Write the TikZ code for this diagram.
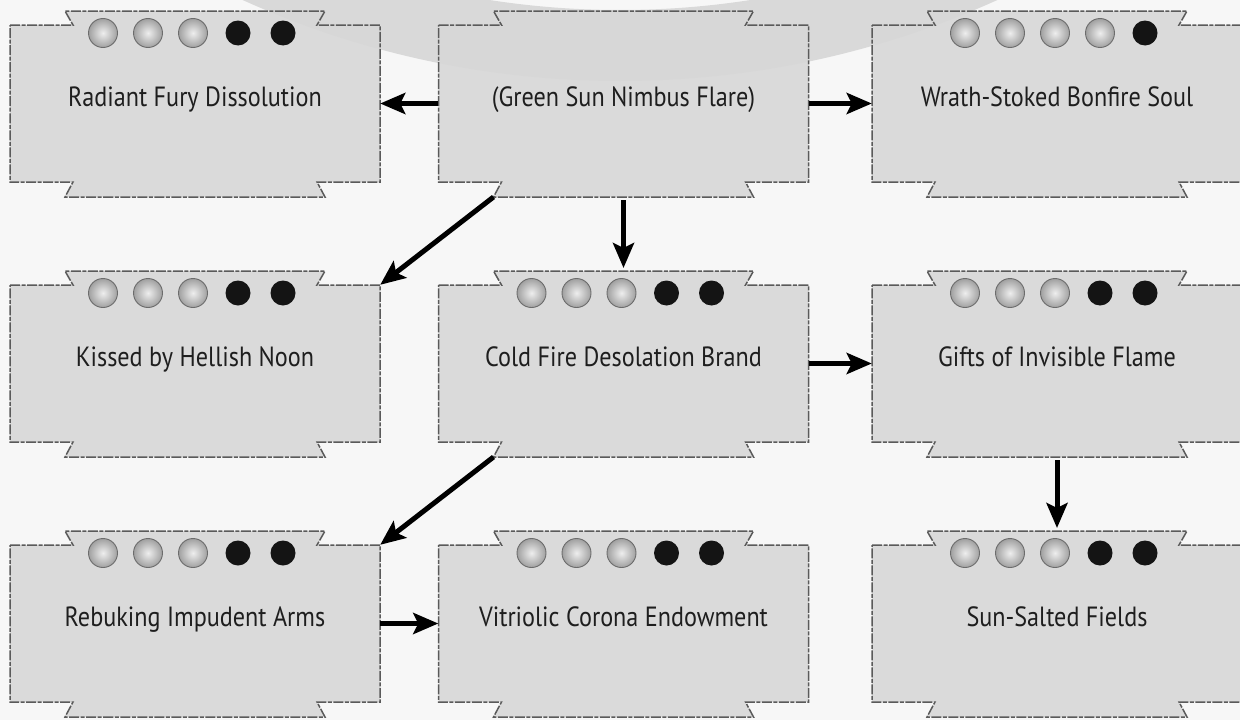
\documentclass[tikz,border=0pt]{standalone}
\usepackage{fontspec}
\setmainfont[FakeStretch=0.87]{PT Sans}
\usetikzlibrary{arrows.meta,calc}
\definecolor{bgcol}{RGB}{247,247,247}
\definecolor{ringcol}{RGB}{217,217,217}
\definecolor{boxfill}{RGB}{215,215,215}
\definecolor{boxedge}{RGB}{90,90,90}
\definecolor{textcol}{RGB}{30,30,30}
\definecolor{silverin}{RGB}{238,238,238}
\definecolor{silverout}{RGB}{160,160,160}
\tikzset{
  boxshape/.style={fill=boxfill, fill opacity=0.9, draw=boxedge, line width=1.5pt,
    dash pattern=on 10pt off 1.5pt on 4pt off 1.5pt},
  boxanchor/.style={minimum width=370pt, minimum height=157pt, inner sep=0pt, draw=none},
  boxlabel/.style={anchor=base, font=\fontsize{27.8}{32}\selectfont, text=textcol, inner sep=0pt},
  conn/.style={line width=5pt, draw=black, -{Stealth[length=25pt,width=21pt,inset=5pt]}},
}
\newcommand\nbox[4]{%
  \node[boxanchor] (#1) at (#2,#3) {};
  \begin{scope}[shift={(#1.center)}]
    \path[boxshape] (-185,-78.5) -- (-122,-78.5) -- (-130,-92.5) -- (130,-92.5) -- (122,-78.5)
      -- (185,-78.5) -- (185,78.5) -- (122,78.5) -- (130,93.5) -- (-130,93.5) -- (-122,78.5)
      -- (-185,78.5) -- cycle;
    \coordinate (#1-top) at (0,-92.5);
    \coordinate (#1-bot) at (0,93.5);
    \coordinate (#1-bl) at (-130,93.5);
  \end{scope}
  \node[boxlabel] (#1-label) at ($(#1.center)+(0,3)$) {#4};
}
\newcommand\ndots[2]{%
  \foreach \i in {1,...,5}{%
    \pgfmathsetmacro\dx{-92+45*(\i-1)}
    \ifnum\i>#2
      \fill[black!92] ($(#1.center)+(\dx,-70.5)$) circle[radius=12.5pt];
    \else
      \shade[inner color=silverin, outer color=silverout] ($(#1.center)+(\dx,-70.5)$) circle[radius=14.5pt];
      \draw[gray!85!black, line width=0.9pt] ($(#1.center)+(\dx,-70.5)$) circle[radius=14.5pt];
    \fi
  }%
}
\begin{document}
\begin{tikzpicture}[x=1pt,y=-1pt]
  \useasboundingbox (0,0) rectangle (1240,720);
  \clip (0,0) rectangle (1240,720);
  \fill[bgcol] (0,0) rectangle (1240,720);
  \fill[ringcol, even odd rule] (620,-836) circle[radius=917pt] (620,-836) circle[radius=846pt];

  \nbox{R}{195}{103.5}{Radiant Fury Dissolution}
  \nbox{G}{623.5}{103.5}{(Green Sun Nimbus Flare)}
  \nbox{W}{1057}{103.5}{Wrath-Stoked Bonfire Soul}
  \nbox{K}{195}{363.5}{Kissed by Hellish Noon}
  \nbox{C}{623.5}{363.5}{Cold Fire Desolation Brand}
  \nbox{F}{1057}{363.5}{Gifts of Invisible Flame}
  \nbox{Rb}{195}{623.5}{Rebuking Impudent Arms}
  \nbox{V}{623.5}{623.5}{Vitriolic Corona Endowment}
  \nbox{S}{1057}{623.5}{Sun-Salted Fields}

  \ndots{R}{3}
  \ndots{W}{4}
  \ndots{K}{3}
  \ndots{C}{3}
  \ndots{F}{3}
  \ndots{Rb}{3}
  \ndots{V}{3}
  \ndots{S}{3}

  \draw[conn] (G.west) -- (R.east);
  \draw[conn] (G.east) -- (W.west);
  \draw[conn] (G-bl) -- (K.north east);
  \draw[conn, shorten <=3pt, shorten >=3pt] (G-bot) -- (C-top);
  \draw[conn] (C.east) -- (F.west);
  \draw[conn] (C-bl) -- (Rb.north east);
  \draw[conn, shorten <=3pt, shorten >=3pt] (F-bot) -- (S-top);
  \draw[conn] (Rb.east) -- (V.west);
\end{tikzpicture}
\end{document}
